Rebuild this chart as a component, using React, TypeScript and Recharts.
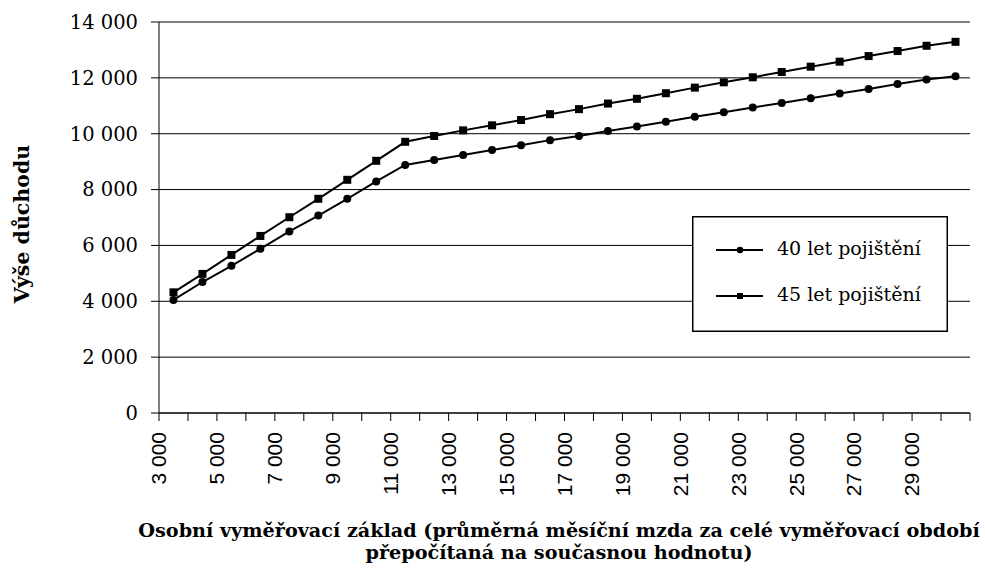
import React from 'react';
import { LineChart, Line, XAxis, YAxis, CartesianGrid, Legend } from 'recharts';

const wages = [3000, 4000, 5000, 6000, 7000, 8000, 9000, 10000, 11000, 12000, 13000, 14000, 15000, 16000, 17000, 18000, 19000, 20000, 21000, 22000, 23000, 24000, 25000, 26000, 27000, 28000, 29000, 30000];
const pension40 = [4050, 4690, 5270, 5880, 6500, 7070, 7670, 8290, 8880, 9060, 9240, 9420, 9590, 9770, 9920, 10100, 10260, 10430, 10610, 10770, 10940, 11100, 11270, 11440, 11600, 11780, 11940, 12060];
const pension45 = [4320, 4980, 5660, 6340, 7010, 7670, 8350, 9030, 9710, 9920, 10120, 10300, 10490, 10700, 10880, 11080, 11250, 11450, 11650, 11840, 12020, 12210, 12400, 12580, 12780, 12960, 13150, 13290];
const axisTicks = [3000, 4000, 5000, 6000, 7000, 8000, 9000, 10000, 11000, 12000, 13000, 14000, 15000, 16000, 17000, 18000, 19000, 20000, 21000, 22000, 23000, 24000, 25000, 26000, 27000, 28000, 29000, 30000, 31000];
const labeledTicks = [3000, 5000, 7000, 9000, 11000, 13000, 15000, 17000, 19000, 21000, 23000, 25000, 27000, 29000];
const yTicks = [0, 2000, 4000, 6000, 8000, 10000, 12000, 14000];
const seriesNames = ['40 let pojištění', '45 let pojištění'];
const yTitle = 'Výše důchodu';
const xTitleLines = ['Osobní vyměřovací základ (průměrná měsíční mzda za celé vyměřovací období', 'přepočítaná na současnou hodnotu)'];

const data = wages.map((w, i) => ({ wage: w, p40: pension40[i], p45: pension45[i] }));

const SERIF = "'DejaVu Serif', serif";
const SANS = "'Liberation Sans', Arial, sans-serif";

const fmt = (v: number) => String(v).replace(/\B(?=(\d{3})+(?!\d))/g, '\u00a0');

const XTick = (props: any) => {
  const { x, y, payload } = props;
  if (!labeledTicks.includes(payload.value)) return <g />;
  return (
    <text x={x} y={y} dy="0.35em" transform={`rotate(-90 ${x} ${y})`} textAnchor="end" fontFamily={SANS} fontSize={21} fill="#000">
      {fmt(payload.value)}
    </text>
  );
};

const SquareDot = (props: any) => {
  const { cx, cy, index } = props;
  if (cx == null || cy == null) return <g key={`sq-${index}`} />;
  return <rect key={`sq-${index}`} x={cx - 4} y={cy - 4} width={8} height={8} fill="#000" />;
};

const LegendBox = () => (
  <svg width={256} height={116} style={{ display: 'block' }}>
    <rect x={0.75} y={0.75} width={254.5} height={114.5} fill="#fff" stroke="#000" strokeWidth={1.5} />
    <line x1={24} x2={71} y1={34} y2={34} stroke="#000" strokeWidth={2} />
    <circle cx={48} cy={34} r={3.3} fill="#000" />
    <text x={85} y={38.5} fontFamily={SERIF} fontSize={19} fill="#000">{seriesNames[0]}</text>
    <line x1={24} x2={71} y1={80} y2={80} stroke="#000" strokeWidth={2} />
    <rect x={45} y={77} width={6} height={6} fill="#000" />
    <text x={85} y={85} fontFamily={SERIF} fontSize={19} fill="#000">{seriesNames[1]}</text>
  </svg>
);

export default function App() {
  return (
    <div style={{ position: 'absolute', left: 0, top: 0, width: 985, height: 569, background: '#fff' }}>
      <LineChart width={985} height={569} data={data} margin={{ top: 22, right: 15, bottom: 0, left: 0 }}>
        <CartesianGrid horizontal vertical={false} stroke="#000" strokeWidth={1} xAxisId="tick" />
        <XAxis
          xAxisId="tick"
          type="number"
          dataKey="wage"
          domain={[3000, 31000]}
          ticks={axisTicks}
          interval={0}
          height={156}
          tickSize={8}
          tickMargin={11}
          axisLine={{ stroke: '#000', strokeWidth: 1 }}
          tickLine={{ stroke: '#000', strokeWidth: 1 }}
          tick={<XTick />}
          allowDataOverflow
        />
        <XAxis xAxisId="cat" type="category" dataKey="wage" scale="band" orientation="top" height={0} hide />
        <YAxis
          width={159}
          domain={[0, 14000]}
          ticks={yTicks}
          interval={0}
          tickSize={8}
          tickMargin={13}
          tickFormatter={fmt}
          axisLine={{ stroke: '#000', strokeWidth: 1 }}
          tickLine={{ stroke: '#000', strokeWidth: 1 }}
          tick={{ fontFamily: SERIF, fontSize: 19.5, fill: '#000' }}
        />
        <Legend
          layout="vertical"
          align="center"
          verticalAlign="middle"
          content={() => <LegendBox />}
          wrapperStyle={{ position: 'absolute', left: 692, top: 216, width: 256, height: 116 }}
        />
        <Line
          xAxisId="cat"
          name={seriesNames[0]}
          dataKey="p40"
          stroke="#000"
          strokeWidth={2}
          dot={{ r: 4, fill: '#000', stroke: 'none' }}
          activeDot={false}
          isAnimationActive={false}
        />
        <Line
          xAxisId="cat"
          name={seriesNames[1]}
          dataKey="p45"
          stroke="#000"
          strokeWidth={2}
          dot={<SquareDot />}
          activeDot={false}
          isAnimationActive={false}
        />
      </LineChart>
      <svg width={985} height={569} style={{ position: 'absolute', left: 0, top: 0, pointerEvents: 'none' }}>
        <text x={28.5} y={224} transform="rotate(-90 28.5 224)" textAnchor="middle" fontFamily={SERIF} fontWeight="bold" fontSize={20.5} fill="#000">
          {yTitle}
        </text>
        <text x={559} y={536.7} textAnchor="middle" fontFamily={SERIF} fontWeight="bold" fontSize={19.2} fill="#000">
          {xTitleLines[0]}
        </text>
        <text x={559} y={558.5} textAnchor="middle" fontFamily={SERIF} fontWeight="bold" fontSize={19.2} fill="#000">
          {xTitleLines[1]}
        </text>
      </svg>
    </div>
  );
}
